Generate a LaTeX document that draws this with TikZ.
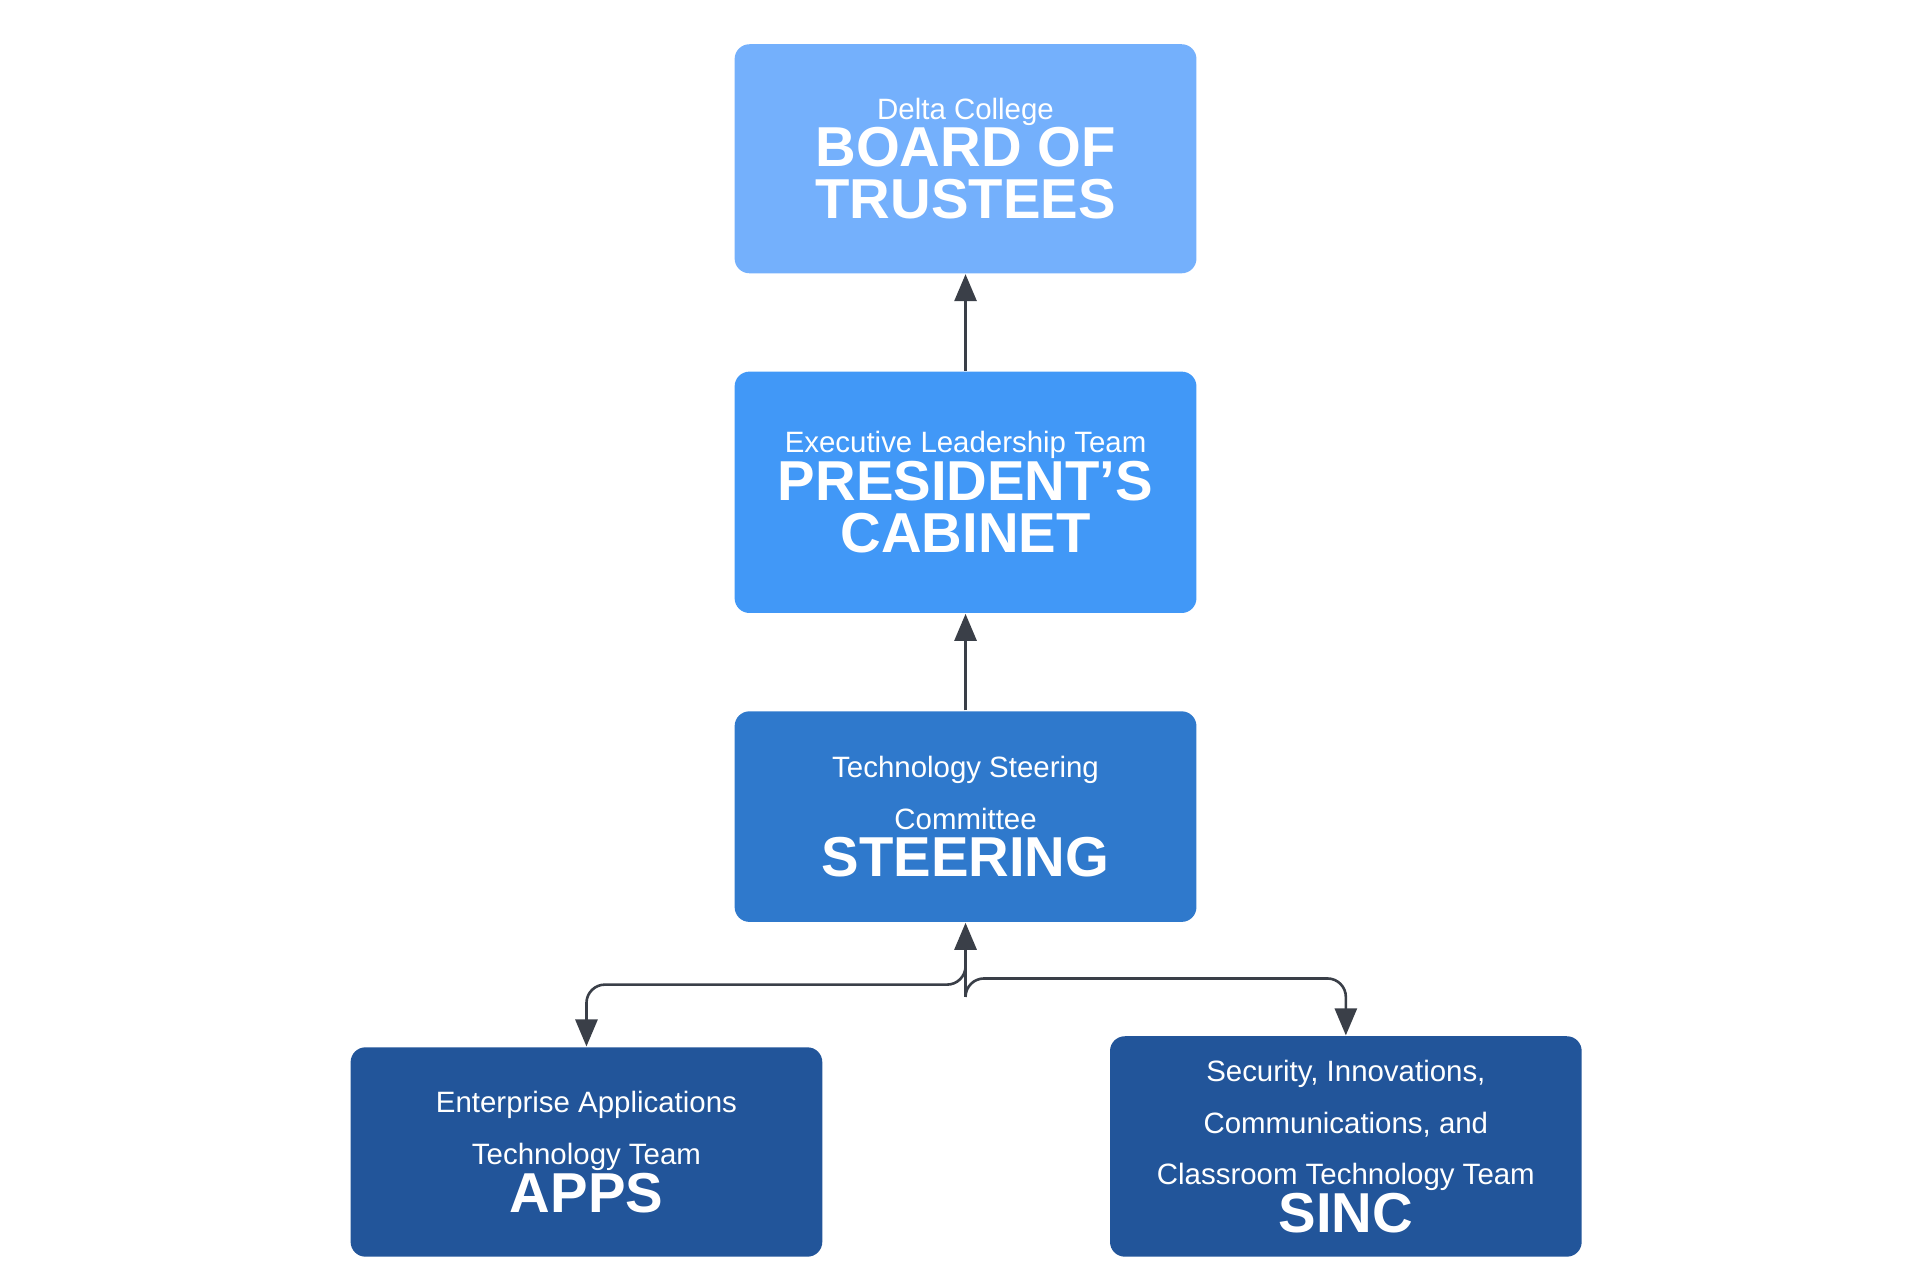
\documentclass[tikz,border=0pt]{standalone}
\usepackage{fontspec}
\setmainfont{Liberation Sans}
\usetikzlibrary{arrows.meta}
\definecolor{boardblue}{HTML}{74B0FC}
\definecolor{presblue}{HTML}{4198F7}
\definecolor{steerblue}{HTML}{2F79CC}
\definecolor{teamblue}{HTML}{22559A}
\definecolor{linegray}{HTML}{3A3F48}
\newcommand{\subtxt}[1]{{\fontsize{6.8pt}{8.8pt}\selectfont #1}}
\newcommand{\headtxt}[1]{{\fontsize{13pt}{14.2pt}\selectfont\bfseries #1}}
\begin{document}
\begin{tikzpicture}[
	x=0.01cm, y=-0.01cm,
	cell/.style={
		rectangle,
		rounded corners=1.2mm,
		text=white,
		align=center,
		inner sep=0pt,
	},
	ArrowC1/.style={% connectors
		rounded corners=.15cm,
		line width=0.6pt,
		draw=linegray,
		-{Triangle[length=2.2mm,width=1.8mm]},
	},
]
	\useasboundingbox (0,0) rectangle (1560,1040);
	\node [cell, fill=boardblue, minimum width=3.75cm, minimum height=1.86cm] (board) at (784.5,129)
		{\subtxt{Delta College}\\[-1pt]\headtxt{BOARD OF}\\\headtxt{TRUSTEES}};
	\node [cell, fill=presblue, minimum width=3.75cm, minimum height=1.96cm] (pres) at (784.5,400)
		{\subtxt{Executive Leadership Team}\\[-1pt]\headtxt{PRESIDENT'S}\\\headtxt{CABINET}};
	\node [cell, fill=steerblue, minimum width=3.75cm, minimum height=1.71cm] (steer) at (784.5,663.5)
		{\subtxt{Technology Steering}\\\subtxt{Committee}\\[-1pt]\headtxt{STEERING}};
	\node [cell, fill=teamblue, minimum width=3.83cm, minimum height=1.70cm] (apps) at (476.5,936)
		{\subtxt{Enterprise Applications}\\\subtxt{Technology Team}\\[-1pt]\headtxt{APPS}};
	\node [cell, fill=teamblue, minimum width=3.83cm, minimum height=1.79cm] (sinc) at (1093.5,931.5)
		{\subtxt{Security, Innovations,}\\\subtxt{Communications, and}\\\subtxt{Classroom Technology Team}\\[-1pt]\headtxt{SINC}};
	\coordinate (split) at (784.5,797);

	\draw [ArrowC1] (pres) -- (board);
	\draw [ArrowC1] (steer) -- (pres);
	\draw [ArrowC1] (split) -- (steer);
	\draw [ArrowC1] (split) -- (784.5,800) -| (apps);
	\draw [ArrowC1] (split) -- (784.5,795) -| (sinc);
\end{tikzpicture}
\end{document}
